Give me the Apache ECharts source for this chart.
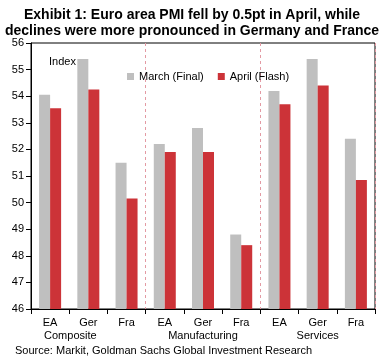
<!DOCTYPE html>
<html><head><meta charset="utf-8">
<script src="https://cdn.jsdelivr.net/npm/echarts@6/dist/echarts.min.js"></script>
<style>html,body{margin:0;padding:0;background:#fff}#c{width:384px;height:360px}</style>
</head><body><div id="c"></div>
<script>
var categories = ['EA','Ger','Fra','EA','Ger','Fra','EA','Ger','Fra'];
var groups = ['Composite','Manufacturing','Services'];
var marchFinal = [54.05, 55.4, 51.5, 52.2, 52.8, 48.8, 54.2, 55.4, 52.4];
var aprilFlash = [53.55, 54.25, 50.15, 51.9, 51.9, 48.4, 53.7, 54.4, 50.85];
var yTicks = [46, 47, 48, 49, 50, 51, 52, 53, 54, 55, 56];
var seriesNames = ['March (Final)', 'April (Flash)'];
var titleLines = ['Exhibit 1: Euro area PMI fell by 0.5pt in April, while',
                  'declines were more pronounced in Germany and France'];

var font = 'Liberation Sans, Arial, sans-serif';
var chart = echarts.init(document.getElementById('c'), null, {renderer:'canvas'});
chart.setOption({
  animation: false,
  textStyle: {fontFamily: font},
  title: [
    {text: titleLines[0], left: 'center', top: 3,
     textStyle: {fontFamily: font, fontSize: 14, fontWeight: 'bold', color: '#000'}},
    {text: titleLines[1], left: 'center', top: 19,
     textStyle: {fontFamily: font, fontSize: 14, fontWeight: 'bold', color: '#000'}},
    {text: 'Index', left: 44, top: 51, textStyle: {fontFamily: font, fontSize: 11, fontWeight: 'normal', color: '#000'}},
    {text: 'Source: Markit, Goldman Sachs Global Investment Research', left: 10, top: 340,
     textStyle: {fontFamily: font, fontSize: 11, fontWeight: 'normal', color: '#000'}}
  ],
  legend: {
    data: seriesNames, left: 122, top: 66, itemWidth: 7, itemHeight: 7, itemGap: 14,
    icon: 'rect', textStyle: {fontFamily: font, fontSize: 11, color: '#000'}
  },
  grid: {left: 31, right: 9, top: 43, bottom: 51, show: true, borderColor: '#000', borderWidth: 1, containLabel: false},
  xAxis: [{
    type: 'category', data: categories, position: 'bottom',
    axisLine: {lineStyle: {color: '#000'}},
    axisTick: {show: true, length: 5, lineStyle: {color: '#000'}},
    axisLabel: {color: '#000', fontSize: 11, margin: 8, fontFamily: font},
    splitLine: {show: true, interval: function(i){ return i === 3 || i === 6; },
      lineStyle: {color: '#e39aa3', type: [3, 3], width: 1}}
  }, {
    type: 'category', data: groups, position: 'bottom', offset: 13,
    axisLine: {show: false}, axisTick: {show: false}, splitLine: {show: false},
    axisLabel: {color: '#000', fontSize: 11, margin: 8, fontFamily: font,
      formatter: function(v){ return v === 'Composite' ? '{a|' + v + '}' : v; },
      rich: {a: {fontSize: 11, fontFamily: font, color: '#000', padding: [0, 36, 0, 0]}}}
  }],
  yAxis: {
    type: 'value', min: yTicks[0], max: yTicks[yTicks.length - 1], interval: 1,
    axisLine: {show: true, lineStyle: {color: '#000'}},
    axisTick: {show: true, length: 5, lineStyle: {color: '#000'}},
    axisLabel: {color: '#000', fontSize: 11, margin: 7, fontFamily: font},
    splitLine: {show: false}
  },
  series: [
    {name: seriesNames[0], type: 'bar', data: marchFinal, barWidth: 11, barGap: '0%',
     itemStyle: {color: '#bfbfbf'}},
    {name: seriesNames[1], type: 'bar', data: aprilFlash, barWidth: 11, barGap: '0%',
     itemStyle: {color: '#cc3338'}}
  ]
});
</script></body></html>
